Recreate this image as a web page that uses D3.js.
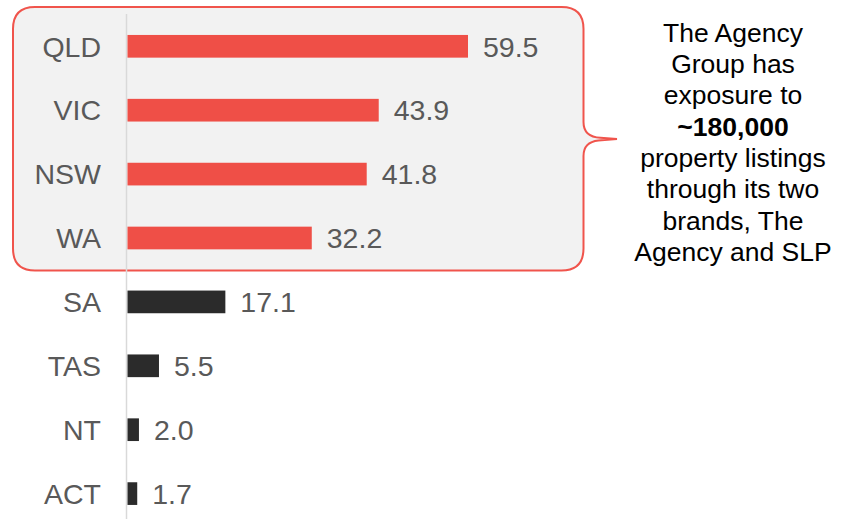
<!DOCTYPE html>
<html>
<head>
<meta charset="utf-8">
<script src="https://cdn.jsdelivr.net/npm/d3@7"></script>
<style>
  body { margin: 0; background: #ffffff; }
  svg text { font-family: Arial, "Liberation Sans", sans-serif; }
</style>
</head>
<body>
<svg id="chart"></svg>
<script>
// listings by state ('000)
var states = ["QLD", "VIC", "NSW", "WA", "SA", "TAS", "NT", "ACT"];
var listings = [59.5, 43.9, 41.8, 32.2, 17.1, 5.5, 2.0, 1.7];
var highlighted = ["QLD", "VIC", "NSW", "WA"];
var noteLines = ["The Agency", "Group has", "exposure to", "~180,000",
    "property listings", "through its two", "brands, The", "Agency and SLP"];
var boldLine = "~180,000";

var width = 848, height = 519;
var redBar = "#ef4f47", darkBar = "#2b2b2b", labelColor = "#595959";

var svg = d3.select("#chart")
    .attr("width", width)
    .attr("height", height);

var x = d3.scaleLinear()
    .domain([0, 59.5])
    .range([127.5, 468]);

var y = d3.scaleBand()
    .domain(states)
    .range([14.35, 525.55])
    .paddingInner(0.645)
    .paddingOuter(0.3225);

// callout box behind the top four states, with a curved pointer on the right
var bx0 = 13, by0 = 7, bx1 = 583.5, by1 = 270.5, r = 22;
var tipY = 139;
var callout = d3.path();
callout.moveTo(bx0 + r, by0);
callout.lineTo(bx1 - r, by0);
callout.quadraticCurveTo(bx1, by0, bx1, by0 + r);
callout.lineTo(bx1, tipY - 17);
callout.quadraticCurveTo(bx1, tipY - 2, bx1 + 17, tipY - 1.2);
callout.lineTo(617, tipY);
callout.lineTo(bx1 + 15, tipY + 1.5);
callout.quadraticCurveTo(bx1, tipY + 3, bx1, tipY + 17);
callout.lineTo(bx1, by1 - r);
callout.quadraticCurveTo(bx1, by1, bx1 - r, by1);
callout.lineTo(bx0 + r, by1);
callout.quadraticCurveTo(bx0, by1, bx0, by1 - r);
callout.lineTo(bx0, by0 + r);
callout.quadraticCurveTo(bx0, by0, bx0 + r, by0);
callout.closePath();

svg.append("path")
    .attr("d", callout.toString())
    .attr("fill", "#f2f2f2")
    .attr("stroke", "#f0544c")
    .attr("stroke-width", 2);

// baseline axis
svg.append("line")
    .attr("x1", x(0) - 1).attr("x2", x(0) - 1)
    .attr("y1", 14).attr("y2", height)
    .attr("stroke", "#d9d9d9")
    .attr("stroke-width", 1.5);

var rows = states.map(function (s, i) { return { state: s, value: listings[i] }; });

svg.append("g")
    .selectAll("rect")
    .data(rows)
    .enter().append("rect")
    .attr("x", x(0))
    .attr("y", function (d) { return y(d.state); })
    .attr("width", function (d) { return x(d.value) - x(0); })
    .attr("height", y.bandwidth())
    .attr("fill", function (d) { return highlighted.indexOf(d.state) >= 0 ? redBar : darkBar; });

// category labels
svg.append("g")
    .selectAll("text")
    .data(rows)
    .enter().append("text")
    .attr("x", 101)
    .attr("y", function (d) { return y(d.state) + y.bandwidth() / 2; })
    .attr("dy", "0.36em")
    .attr("text-anchor", "end")
    .attr("font-size", 28.5)
    .attr("fill", labelColor)
    .text(function (d) { return d.state; });

// value labels
svg.append("g")
    .selectAll("text")
    .data(rows)
    .enter().append("text")
    .attr("x", function (d) { return x(d.value) + 15; })
    .attr("y", function (d) { return y(d.state) + y.bandwidth() / 2; })
    .attr("dy", "0.36em")
    .attr("font-size", 28.5)
    .attr("fill", labelColor)
    .text(function (d) { return d3.format(".1f")(d.value); });

// side note
svg.append("g")
    .selectAll("text")
    .data(noteLines)
    .enter().append("text")
    .attr("x", 733)
    .attr("y", function (d, i) { return 41.7 + i * 31.3; })
    .attr("text-anchor", "middle")
    .attr("font-size", 26.5)
    .attr("font-weight", function (d) { return d === boldLine ? "bold" : "normal"; })
    .attr("fill", "#000000")
    .text(function (d) { return d; });
</script>
</body>
</html>
